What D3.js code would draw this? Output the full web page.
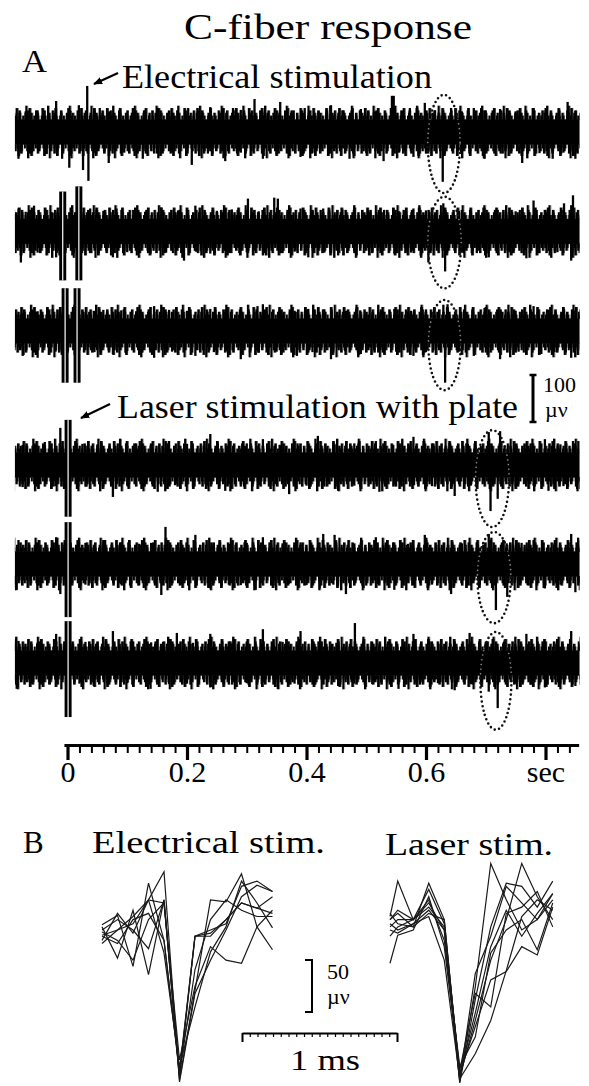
<!DOCTYPE html>
<html>
<head>
<meta charset="utf-8">
<script src="https://cdn.jsdelivr.net/npm/d3@7"></script>
<style>
  body { margin: 0; background: #fff; }
  svg { display: block; }
  text { font-family: "Liberation Serif", "Times New Roman", Tinos, "Nimbus Roman", serif; fill: #000; }
</style>
</head>
<body>
<div id="chart"></div>
<script>
// ---- Panel A: six sweeps (3 electrical, 3 laser) ----
// spikes are [time (s), amplitude (µV)], measured off the baseline
const sweepNames = ["elec1", "elec2", "elec3", "laser1", "laser2", "laser3"];
const sweepSpan = [-0.088, 0.857];
const noiseCore = 27; // µV, solid part of the noise band

const spikesUp = [
  [[-0.019,66],[0.019,57],[0.033,98],[0.054,51],[0.088,47],[0.151,51],[0.202,51],[0.239,53],[0.277,51],[0.313,70],[0.356,64],[0.397,51],[0.441,57],[0.491,49],[0.543,77],[0.546,77],[0.573,51],[0.598,62],[0.642,51],[0.680,51],[0.724,49],[0.780,51],[0.837,64],
   [-0.07,44],[-0.05,46],[0.005,45],[0.07,44],[0.11,42],[0.13,46],[0.17,44],[0.22,45],[0.26,43],[0.29,47],[0.33,44],[0.375,46],[0.42,44],[0.46,46],[0.515,44],[0.56,45],[0.615,46],[0.66,44],[0.70,46],[0.75,44],[0.80,46],[0.85,45]],
  [[-0.082,49],[-0.056,55],[-0.025,40],[0.038,49],[0.082,49],[0.157,51],[0.214,55],[0.302,70],[0.346,72],[0.352,70],[0.390,49],[0.428,49],[0.503,45],[0.579,49],[0.629,60],[0.698,49],[0.780,66],[0.831,60],[0.846,77],
   [-0.07,42],[0.06,44],[0.11,46],[0.13,42],[0.185,45],[0.25,44],[0.275,47],[0.32,43],[0.37,46],[0.41,43],[0.46,47],[0.48,42],[0.53,46],[0.555,43],[0.60,45],[0.655,44],[0.72,46],[0.75,43],[0.80,46]],
  [[-0.075,38],[-0.025,47],[0.044,43],[0.145,53],[0.239,47],[0.318,53],[0.327,57],[0.403,47],[0.466,43],[0.547,47],[0.636,57],[0.698,49],[0.780,53],[0.831,43],
   [-0.05,42],[0.06,45],[0.09,44],[0.115,42],[0.17,45],[0.20,43],[0.265,46],[0.29,43],[0.355,45],[0.38,43],[0.43,46],[0.49,44],[0.52,45],[0.575,43],[0.60,46],[0.665,44],[0.725,46],[0.75,43],[0.805,45],[0.85,44]],
  [[-0.075,43],[-0.038,49],[-0.012,79],[0.088,55],[0.170,51],[0.239,66],[0.327,55],[0.419,62],[0.516,51],[0.579,60],[0.705,70],[0.724,72],[0.799,55],[0.846,51],
   [-0.055,42],[0.025,45],[0.05,44],[0.115,46],[0.14,43],[0.20,45],[0.27,44],[0.30,46],[0.355,43],[0.385,46],[0.45,44],[0.48,46],[0.545,43],[0.61,46],[0.64,44],[0.67,45],[0.75,44],[0.775,46],[0.825,44]],
  [[-0.082,51],[-0.019,57],[0.063,51],[0.164,79],[0.214,62],[0.327,57],[0.428,64],[0.447,62],[0.516,57],[0.598,62],[0.705,64],[0.780,51],[0.843,64],
   [-0.05,44],[0.03,45],[0.09,46],[0.12,43],[0.14,45],[0.19,44],[0.245,46],[0.27,43],[0.30,45],[0.36,44],[0.39,46],[0.48,44],[0.545,46],[0.57,43],[0.63,45],[0.66,44],[0.685,46],[0.735,44],[0.76,45],[0.815,44]],
  [[-0.082,47],[-0.019,62],[0.076,68],[0.183,64],[0.239,62],[0.327,72],[0.390,68],[0.481,85],[0.579,62],[0.673,64],[0.768,62],[0.843,68],
   [-0.05,44],[0.03,45],[0.05,43],[0.11,46],[0.14,44],[0.16,45],[0.21,43],[0.27,46],[0.30,44],[0.36,45],[0.42,46],[0.45,43],[0.51,45],[0.54,44],[0.61,46],[0.64,43],[0.70,45],[0.73,44],[0.795,46],[0.82,43]]
];

const spikesDown = [
  [[-0.082,57],[-0.009,57],[0.003,76],[0.026,81],[0.035,104],[0.069,66],[0.126,57],[0.208,70],[0.264,62],[0.327,57],[0.390,53],[0.472,57],[0.529,62],[0.579,53],[0.628,106],[0.698,57],[0.761,66],[0.812,57],[0.850,57],
   [-0.06,44],[-0.035,47],[0.045,45],[0.095,44],[0.15,46],[0.175,43],[0.235,46],[0.29,44],[0.35,47],[0.41,44],[0.44,46],[0.50,45],[0.555,44],[0.60,46],[0.66,44],[0.725,46],[0.79,45],[0.83,44]],
  [[-0.078,66],[-0.019,55],[0.076,55],[0.139,47],[0.195,62],[0.239,47],[0.327,51],[0.403,55],[0.453,51],[0.547,47],[0.604,66],[0.632,85],[0.705,55],[0.768,57],[0.843,62],
   [-0.05,45],[0.04,46],[0.10,44],[0.165,45],[0.215,43],[0.27,46],[0.30,44],[0.36,46],[0.38,43],[0.43,45],[0.48,46],[0.51,43],[0.575,45],[0.66,44],[0.685,46],[0.74,44],[0.79,46],[0.82,44]],
  [[-0.075,53],[-0.050,57],[0.076,49],[0.145,57],[0.214,53],[0.290,60],[0.384,53],[0.441,60],[0.491,49],[0.579,53],[0.632,110],[0.680,53],[0.724,60],[0.793,49],[0.843,57],
   [-0.02,44],[0.045,45],[0.10,43],[0.12,46],[0.175,44],[0.245,45],[0.265,43],[0.32,46],[0.35,44],[0.41,45],[0.465,43],[0.52,46],[0.55,44],[0.60,45],[0.655,44],[0.70,46],[0.755,44],[0.815,45]],
  [[-0.075,47],[0.076,68],[0.151,57],[0.264,55],[0.371,62],[0.453,55],[0.522,57],[0.648,66],[0.708,98],[0.720,72],[0.805,55],[0.853,51],
   [-0.05,44],[-0.02,45],[0.03,46],[0.10,44],[0.125,45],[0.18,43],[0.21,46],[0.235,44],[0.29,46],[0.32,43],[0.345,45],[0.40,44],[0.43,46],[0.48,44],[0.55,46],[0.58,43],[0.61,45],[0.675,44],[0.75,46],[0.78,44],[0.83,45]],
  [[-0.085,55],[-0.012,64],[0.157,66],[0.239,52],[0.315,55],[0.422,52],[0.466,64],[0.547,55],[0.642,64],[0.717,98],[0.736,70],[0.799,52],[0.850,60],
   [-0.05,45],[0.03,44],[0.06,46],[0.09,43],[0.12,45],[0.19,44],[0.215,46],[0.27,44],[0.29,45],[0.345,46],[0.37,43],[0.40,45],[0.445,44],[0.50,46],[0.52,43],[0.58,45],[0.61,44],[0.67,46],[0.69,44],[0.77,45],[0.825,44]],
  [[-0.085,55],[0.044,49],[0.139,55],[0.239,52],[0.352,55],[0.453,49],[0.554,55],[0.648,58],[0.705,61],[0.720,96],[0.799,52],[0.850,49],
   [-0.06,44],[-0.03,45],[0.02,44],[0.07,46],[0.10,43],[0.17,45],[0.20,44],[0.27,46],[0.30,43],[0.325,45],[0.38,44],[0.41,46],[0.48,44],[0.51,45],[0.59,46],[0.62,43],[0.675,45],[0.75,44],[0.775,46],[0.825,44]]
];

// stimulus artifacts: [time (s), up µV, down µV]
const artifacts = [
  [],
  [[-0.008,85,104],[0.019,96,104]],
  [[-0.004,91,110],[0.016,91,110]],
  [[0.001,96,110]],
  [[0.001,89,113]],
  [[0.001,89,115]]
];

// dotted circles round the C-fiber spike: [centre s, half width s, top µV, bottom µV]
const responseMarks = [
  [0.630, 0.027, 79, -130],
  [0.631, 0.028, 74, -121],
  [0.631, 0.027, 66, -126],
  [0.711, 0.028, 74, -132],
  [0.714, 0.028, 68, -126],
  [0.717, 0.026, 66, -142]
];

const timeTicks = [0, 0.2, 0.4, 0.6, 0.8];
const timeTickLabels = ["0", "0.2", "0.4", "0.6", "sec"];

// ---- Panel B: overlaid spikes, µV at 10 kHz samples ----
const elecTimes = [0, 0.1, 0.2, 0.3, 0.4, 0.5, 0.6, 0.7, 0.8, 0.9, 1.0, 1.1];
const elecWaves = [
  [5, 14, -35, 45, -10, -138, -6, -3, 10, 26, 21, 16],
  [3, -27, 19, -43, 29, -144, -58, 29, 27, 54, 3, -19],
  [-5, 0, 13, 29, 56, -146, -61, -29, 0, 32, 43, 37],
  [0, 10, 0, -18, 29, -141, -6, 0, 6, 42, 47, 37],
  [-10, 16, -3, 29, 26, -125, -54, -16, -29, -32, 3, 19],
  [-6, -13, 10, 16, -10, -135, -6, -6, 10, 26, 21, 32],
  [-13, 0, 6, 29, -22, -131, -74, -21, 3, 47, 26, 2],
  [-2, -10, -29, 10, 26, -139, -38, 10, 29, 19, 13, 13]
];
const laserTimes = [0, 0.05, 0.15, 0.25, 0.35, 0.45, 0.55, 0.65, 0.75, 0.85, 0.95, 1.05];
const laserWaves = [
  [13, 47, 10, 26, 0, -146, -55, 64, 29, 0, 10, 29],
  [10, 16, 3, 45, 10, -141, -87, -29, 10, 64, 32, 10],
  [-32, -5, 0, 32, -16, -138, -93, -48, -40, -16, -24, 22],
  [3, 10, 10, 22, 3, -147, -67, 3, 45, 42, 22, 47],
  [6, 0, 6, 19, 0, -135, -61, -74, 16, 22, 37, 3],
  [-6, 3, 10, 29, -10, -131, -103, -22, 0, 10, -19, 26],
  [16, 6, 3, 16, 10, -144, -42, -6, 42, 26, 10, 35],
  [0, -3, 6, 13, -29, -143, -119, -87, -39, 13, 29, 19],
  [10, 19, 10, 39, 6, -139, -80, -16, 19, -6, 16, 35]
];

const width = 589, height = 1086;
const svg = d3.select("#chart").append("svg")
  .attr("width", width).attr("height", height);

const defs = svg.append("defs");
defs.append("marker")
  .attr("id", "head").attr("viewBox", "0 0 10 10")
  .attr("refX", 9).attr("refY", 5)
  .attr("markerWidth", 9).attr("markerHeight", 9)
  .attr("markerUnits", "userSpaceOnUse")
  .attr("orient", "auto")
  .append("path").attr("d", "M0,1 L10,5 L0,9 Z").attr("fill", "#000");

// fringe texture of the noise band (pixel period, tooth width, tooth reach in µV)
const fringeLayers = [
  { period: 3.7, w: 2.3, reach: 8 },
  { period: 5.9, w: 2.6, reach: 14 },
  { period: 8.3, w: 2.6, reach: 19 },
  { period: 12.9, w: 2.8, reach: 24 },
  { period: 21.7, w: 2.4, reach: 29 }
];
sweepNames.forEach((name, i) => {
  ["top", "bot"].forEach((side, s) => {
    fringeLayers.forEach((L, k) => {
      const p = defs.append("pattern")
        .attr("id", `fr-${i}-${side}-${k}`)
        .attr("patternUnits", "userSpaceOnUse")
        .attr("width", L.period).attr("height", 200)
        .attr("patternTransform", `translate(${(i * 2.3 + s * 1.7 + k * 0.9) % L.period},0)`);
      p.append("rect").attr("x", 0).attr("y", 0)
        .attr("width", L.w).attr("height", 200).attr("fill", "#000");
    });
  });
});

// scales
const x = d3.scaleLinear().domain([0, 0.8]).range([67.5, 545.5]);
const yA = d3.scaleLinear().domain([-100, 100]).range([47, -47]); // offset from sweep centre
const rowElec = d3.scalePoint().domain([0, 1, 2]).range([132, 331]);
const rowLaser = d3.scalePoint().domain([3, 4, 5]).range([465, 663]);
const rowY = i => i < 3 ? rowElec(i) : rowLaser(i);

// titles
svg.append("text").attr("x", 184).attr("y", 39)
  .attr("font-size", 36).attr("textLength", 288).attr("lengthAdjust", "spacingAndGlyphs")
  .text("C-fiber response");
svg.append("text").attr("x", 22).attr("y", 72)
  .attr("font-size", 32).attr("textLength", 25).attr("lengthAdjust", "spacingAndGlyphs")
  .text("A");
svg.append("text").attr("x", 122).attr("y", 88)
  .attr("font-size", 33).attr("textLength", 310).attr("lengthAdjust", "spacingAndGlyphs")
  .text("Electrical stimulation");
svg.append("text").attr("x", 117).attr("y", 418)
  .attr("font-size", 34).attr("textLength", 401).attr("lengthAdjust", "spacingAndGlyphs")
  .text("Laser stimulation with plate");

svg.append("line").attr("x1", 118).attr("y1", 73).attr("x2", 94).attr("y2", 84)
  .attr("stroke", "#000").attr("stroke-width", 2.2).attr("marker-end", "url(#head)");
svg.append("line").attr("x1", 110).attr("y1", 404).attr("x2", 81).attr("y2", 418)
  .attr("stroke", "#000").attr("stroke-width", 2.2).attr("marker-end", "url(#head)");

// sweeps
sweepNames.forEach((name, i) => {
  const cy = rowY(i);
  const g = svg.append("g").attr("class", "sweep " + name)
    .attr("transform", `translate(0,${cy})`);

  const x0 = x(sweepSpan[0]), x1 = x(sweepSpan[1]);
  defs.append("clipPath").attr("id", "band-" + i)
    .append("rect")
    .attr("x", x0).attr("width", x1 - x0)
    .attr("y", cy + yA(noiseCore)).attr("height", yA(-noiseCore) - yA(noiseCore));

  g.append("rect")
    .attr("x", x0).attr("width", x1 - x0)
    .attr("y", yA(noiseCore)).attr("height", yA(-noiseCore) - yA(noiseCore))
    .attr("fill", "#000");

  fringeLayers.forEach((L, k) => {
    g.append("rect")
      .attr("x", x0).attr("width", x1 - x0)
      .attr("y", yA(noiseCore + L.reach)).attr("height", yA(noiseCore) - yA(noiseCore + L.reach) + 0.5)
      .attr("fill", `url(#fr-${i}-top-${k})`);
    g.append("rect")
      .attr("x", x0).attr("width", x1 - x0)
      .attr("y", yA(-noiseCore) - 0.5).attr("height", yA(-noiseCore - L.reach) - yA(-noiseCore) + 0.5)
      .attr("fill", `url(#fr-${i}-bot-${k})`);
  });

  g.selectAll("line.up").data(spikesUp[i]).join("line")
    .attr("class", "up")
    .attr("x1", d => x(d[0])).attr("x2", d => x(d[0]))
    .attr("y1", yA(noiseCore - 2)).attr("y2", d => yA(d[1]))
    .attr("stroke", "#000").attr("stroke-width", 2.3);

  g.selectAll("line.down").data(spikesDown[i]).join("line")
    .attr("class", "down")
    .attr("x1", d => x(d[0])).attr("x2", d => x(d[0]))
    .attr("y1", yA(-noiseCore + 2)).attr("y2", d => yA(-d[1]))
    .attr("stroke", "#000").attr("stroke-width", 2.3);

  const art = g.selectAll("g.artifact").data(artifacts[i]).join("g").attr("class", "artifact");
  art.append("rect")
    .attr("x", d => x(d[0]) - 3.5).attr("width", 7)
    .attr("y", d => yA(d[1])).attr("height", d => yA(-d[2]) - yA(d[1]))
    .attr("fill", "#000");
  art.append("line")
    .attr("x1", d => x(d[0])).attr("x2", d => x(d[0]))
    .attr("y1", d => yA(d[1])).attr("y2", d => yA(-d[2]))
    .attr("stroke", "#fff").attr("stroke-width", 1.2);

  // dotted ellipse round the response
  const m = responseMarks[i];
  const ell = {
    cx: x(m[0]), rx: x(m[0] + m[1]) - x(m[0]),
    cy: (yA(m[2]) + yA(m[3])) / 2, ry: (yA(m[3]) - yA(m[2])) / 2
  };
  g.append("ellipse")
    .attr("cx", ell.cx).attr("cy", ell.cy).attr("rx", ell.rx).attr("ry", ell.ry)
    .attr("fill", "none").attr("stroke", "#111").attr("stroke-width", 2.6)
    .attr("stroke-linecap", "round").attr("stroke-dasharray", "0 4.6");
  svg.append("g").attr("clip-path", `url(#band-${i})`)
    .append("ellipse")
    .attr("cx", ell.cx).attr("cy", cy + ell.cy).attr("rx", ell.rx).attr("ry", ell.ry)
    .attr("fill", "none").attr("stroke", "#8a8a8a").attr("stroke-width", 1.6)
    .attr("stroke-linecap", "round").attr("stroke-dasharray", "0 4.6");
});

// 100 µV scale bar
const barA = svg.append("g").attr("transform", "translate(533,398.5)");
barA.append("line").attr("x1", 0).attr("x2", 0).attr("y1", yA(50)).attr("y2", yA(-50))
  .attr("stroke", "#000").attr("stroke-width", 3);
[50, -50].forEach(v => barA.append("line")
  .attr("x1", -3.5).attr("x2", 3.5).attr("y1", yA(v)).attr("y2", yA(v))
  .attr("stroke", "#000").attr("stroke-width", 2.5));
svg.append("text").attr("x", 543).attr("y", 392).attr("font-size", 22).text("100");
svg.append("text").attr("x", 545).attr("y", 417).attr("font-size", 22).text("µν");

// time axis
const xAxisScale = x.copy().domain([-0.006, 0.8555]).range([x(-0.006), x(0.8555)]);
const axisG = svg.append("g").attr("transform", "translate(0,745)");
axisG.append("g")
  .call(d3.axisBottom(xAxisScale).tickValues(d3.range(0, 0.856, 0.02)).tickSize(8).tickSizeOuter(0).tickFormat(""))
  .call(g => g.selectAll(".tick line").attr("stroke-width", 2))
  .call(g => g.select(".domain").attr("stroke-width", 3.2));
axisG.append("g")
  .call(d3.axisBottom(xAxisScale).tickValues(timeTicks).tickSize(15).tickSizeOuter(0)
    .tickFormat((d, k) => timeTickLabels[k]))
  .call(g => g.select(".domain").remove())
  .call(g => g.selectAll(".tick line").attr("stroke-width", 3.2))
  .call(g => g.selectAll(".tick text")
    .attr("y", 37).attr("dy", null)
    .attr("font-size", 30).attr("font-family", null).attr("fill", "#000"));

// ---- Panel B ----
svg.append("text").attr("x", 23).attr("y", 853).attr("font-size", 31).text("B");
svg.append("text").attr("x", 92).attr("y", 853)
  .attr("font-size", 31).attr("textLength", 233).attr("lengthAdjust", "spacingAndGlyphs")
  .text("Electrical stim.");
svg.append("text").attr("x", 385).attr("y", 855)
  .attr("font-size", 31).attr("textLength", 168).attr("lengthAdjust", "spacingAndGlyphs")
  .text("Laser stim.");

const msPx = 155;
const xElec = d3.scaleLinear().domain([0, 1]).range([102, 102 + msPx]);
const xLaser = d3.scaleLinear().domain([0, 1]).range([390, 390 + msPx]);
const yB = d3.scaleLinear().domain([0, 50]).range([930, 878]);

const lineElec = d3.line().x((d, k) => xElec(elecTimes[k])).y(d => yB(d));
const lineLaser = d3.line().x((d, k) => xLaser(laserTimes[k])).y(d => yB(d));

svg.append("g").selectAll("path").data(elecWaves).join("path")
  .attr("d", lineElec).attr("fill", "none")
  .attr("stroke", "#1a1a1a").attr("stroke-width", 1.2).attr("stroke-linejoin", "miter");
svg.append("g").selectAll("path").data(laserWaves).join("path")
  .attr("d", lineLaser).attr("fill", "none")
  .attr("stroke", "#1a1a1a").attr("stroke-width", 1.2).attr("stroke-linejoin", "miter");

// 50 µV bracket
const b50 = yB(0) - yB(50);
svg.append("path")
  .attr("d", `M305,960 H312 V${960 + b50} H305`)
  .attr("fill", "none").attr("stroke", "#000").attr("stroke-width", 2);
svg.append("text").attr("x", 327).attr("y", 979).attr("font-size", 22).text("50");
svg.append("text").attr("x", 327).attr("y", 1004).attr("font-size", 22).text("µν");

// 1 ms bar
const msScale = d3.scaleLinear().domain([0, 1]).range([242, 242 + msPx]);
svg.append("g").attr("transform", "translate(0,1033)")
  .call(d3.axisBottom(msScale).tickValues(d3.range(0, 1.0001, 0.05)).tickSize(4).tickSizeOuter(0).tickFormat(""))
  .call(g => g.select(".domain").attr("stroke-width", 2))
  .call(g => g.selectAll(".tick line")
    .attr("y2", (d, k) => (k === 0 || k === 20) ? 9 : 4)
    .attr("stroke-width", (d, k) => (k === 0 || k === 20) ? 2 : 1.2));
svg.append("text").attr("x", 290).attr("y", 1070)
  .attr("font-size", 30).attr("textLength", 70).attr("lengthAdjust", "spacingAndGlyphs")
  .text("1 ms");
</script>
</body>
</html>
